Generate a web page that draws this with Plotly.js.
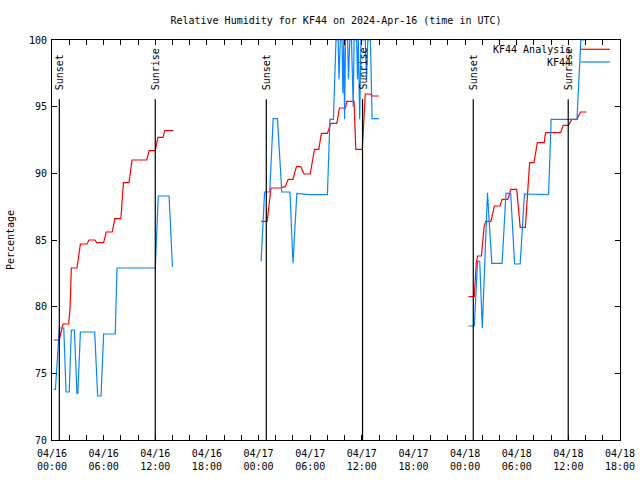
<!DOCTYPE html>
<html><head><meta charset="utf-8">
<script src="https://cdn.plot.ly/plotly-3.0.1.min.js"></script>
<style>html,body{margin:0;padding:0;background:#fff}</style>
</head><body><div id="chart" style="width:640px;height:480px"></div>
<script>
// KF44 Analysis (red)
const analysisTimes = [
 '2024-04-16 00:12','2024-04-16 00:51','2024-04-16 01:03','2024-04-16 01:17','2024-04-16 01:56','2024-04-16 02:06','2024-04-16 02:15','2024-04-16 02:54','2024-04-16 03:18','2024-04-16 04:04','2024-04-16 04:18','2024-04-16 04:58','2024-04-16 05:12','2024-04-16 06:00','2024-04-16 06:18','2024-04-16 07:00','2024-04-16 07:18','2024-04-16 08:00','2024-04-16 08:18','2024-04-16 08:57','2024-04-16 09:18','2024-04-16 11:00','2024-04-16 11:18','2024-04-16 12:00','2024-04-16 12:18','2024-04-16 12:54','2024-04-16 13:06','2024-04-16 14:06',
 '2024-04-16 18:00',
 '2024-04-17 00:18','2024-04-17 01:00','2024-04-17 01:27','2024-04-17 02:30','2024-04-17 03:06','2024-04-17 03:27','2024-04-17 04:00','2024-04-17 04:24','2024-04-17 04:54','2024-04-17 05:18','2024-04-17 06:00','2024-04-17 06:30','2024-04-17 07:00','2024-04-17 07:18','2024-04-17 08:00','2024-04-17 08:24','2024-04-17 09:06','2024-04-17 09:24','2024-04-17 10:06','2024-04-17 10:15','2024-04-17 11:06','2024-04-17 11:18','2024-04-17 12:03','2024-04-17 12:24','2024-04-17 13:00','2024-04-17 13:12','2024-04-17 14:00',
 '2024-04-17 18:00',
 '2024-04-18 00:24','2024-04-18 01:04','2024-04-18 01:18','2024-04-18 01:27','2024-04-18 01:54','2024-04-18 02:12','2024-04-18 02:24','2024-04-18 03:00','2024-04-18 03:24','2024-04-18 04:03','2024-04-18 04:18','2024-04-18 04:57','2024-04-18 05:06','2024-04-18 05:18','2024-04-18 06:00','2024-04-18 06:24','2024-04-18 07:00','2024-04-18 07:21','2024-04-18 07:30','2024-04-18 08:00','2024-04-18 08:24','2024-04-18 09:12','2024-04-18 09:21','2024-04-18 11:06','2024-04-18 11:24','2024-04-18 12:00','2024-04-18 12:24','2024-04-18 13:00','2024-04-18 13:24','2024-04-18 14:06'
];
const analysisValues = [
 77.5,77.5,78.1,78.7,78.7,79.9,82.9,82.9,84.7,84.7,85.0,85.0,84.8,84.8,85.6,85.6,86.6,86.6,89.3,89.3,91.0,91.0,91.7,91.7,92.7,92.7,93.2,93.2,
 null,
 86.4,86.4,88.9,88.9,89.0,89.55,89.55,90.5,90.5,89.95,89.95,91.8,91.8,93.0,93.0,93.75,93.75,94.9,94.9,95.4,95.4,91.8,91.8,95.95,95.95,95.8,95.8,
 null,
 80.75,80.75,83.25,83.8,83.8,85.95,86.4,86.4,87.55,87.55,88.05,88.05,88.3,88.8,88.8,85.95,85.95,89.9,90.8,90.8,92.3,92.3,93.05,93.05,93.6,93.6,94.05,94.05,94.6,94.6
];
// KF44 observations (blue)
const obsTimes = [
 '2024-04-16 00:12','2024-04-16 00:24','2024-04-16 00:51','2024-04-16 01:22','2024-04-16 01:38','2024-04-16 02:00','2024-04-16 02:15','2024-04-16 02:36','2024-04-16 02:54','2024-04-16 03:00','2024-04-16 03:18','2024-04-16 04:58','2024-04-16 05:18','2024-04-16 05:42','2024-04-16 06:00','2024-04-16 07:21','2024-04-16 07:33','2024-04-16 12:00','2024-04-16 12:21','2024-04-16 13:36','2024-04-16 14:00',
 '2024-04-16 18:00',
 '2024-04-17 00:18','2024-04-17 00:42','2024-04-17 01:18','2024-04-17 01:42','2024-04-17 02:12','2024-04-17 02:42','2024-04-17 03:39','2024-04-17 04:00','2024-04-17 04:27','2024-04-17 05:48','2024-04-17 08:00','2024-04-17 08:18','2024-04-17 08:42','2024-04-17 09:00','2024-04-17 09:15','2024-04-17 09:21','2024-04-17 09:30','2024-04-17 09:42','2024-04-17 09:48','2024-04-17 09:54','2024-04-17 10:00','2024-04-17 10:06','2024-04-17 10:21','2024-04-17 10:27','2024-04-17 10:36','2024-04-17 10:48','2024-04-17 11:00','2024-04-17 11:06','2024-04-17 11:24','2024-04-17 11:30','2024-04-17 11:36','2024-04-17 11:45','2024-04-17 11:54','2024-04-17 12:24','2024-04-17 12:33','2024-04-17 12:42','2024-04-17 13:00','2024-04-17 13:12','2024-04-17 14:00',
 '2024-04-17 18:00',
 '2024-04-18 00:24','2024-04-18 01:04','2024-04-18 01:27','2024-04-18 01:42','2024-04-18 02:00','2024-04-18 02:36','2024-04-18 03:06','2024-04-18 04:18','2024-04-18 04:45','2024-04-18 05:18','2024-04-18 05:45','2024-04-18 06:24','2024-04-18 06:54','2024-04-18 09:42','2024-04-18 10:00','2024-04-18 13:00','2024-04-18 13:27','2024-04-18 14:06'
];
const obsValues = [
 73.8,73.8,78.4,78.4,73.6,73.6,78.25,78.25,73.5,73.5,78.1,78.1,73.3,73.3,77.95,77.95,82.9,82.9,88.3,88.3,83.0,
 null,
 83.4,88.6,88.6,94.1,94.1,88.6,88.6,83.25,88.5,88.4,88.4,94.05,94.05,100,100,97.05,100,100,96.0,100,94.05,100,100,97.05,100,100,95.0,100,100,97.05,100,94.05,100,100,97.05,100,100,94.1,94.1,
 null,
 78.55,78.55,83.4,83.4,78.4,88.55,83.25,83.25,88.5,88.5,83.2,83.2,88.45,88.4,94.05,94.05,100,100
];
const sunTimes = ['2024-04-16 00:51','2024-04-16 12:00','2024-04-17 00:54','2024-04-17 12:05','2024-04-18 00:57','2024-04-18 11:59'];
const sunLabels = ['Sunset','Sunrise','Sunset','Sunrise','Sunset','Sunrise'];
const seriesNames = ['KF44 Analysis','KF44'];
const seriesColors = ['#ff0000','#0a84ff'];
const titleText = 'Relative Humidity for KF44 on 2024-Apr-16 (time in UTC)';
const yTitle = 'Percentage';

const FONT = 'DejaVu Sans Mono, monospace';
const traces = [
  {x: analysisTimes, y: analysisValues, type: 'scatter', mode: 'lines', name: seriesNames[0],
   line: {color: seriesColors[0], width: 1.2}, connectgaps: false},
  {x: obsTimes, y: obsValues, type: 'scatter', mode: 'lines', name: seriesNames[1],
   line: {color: seriesColors[1], width: 1.2}, connectgaps: false}
];
const shapes = sunTimes.map(t => ({type: 'line', xref: 'x', yref: 'y', x0: t, x1: t, y0: 70, y1: 95.55,
  line: {color: '#000', width: 1.2}}));
const annotations = sunTimes.map((t, i) => ({xref: 'x', yref: 'y', x: t, y: 96.1, text: sunLabels[i],
  textangle: -90, showarrow: false, xanchor: 'center', yanchor: 'bottom', font: {family: FONT, size: 10, color: '#000'}}));
// custom gnuplot-style key
const keyY = [0.9768, 0.945];
seriesNames.forEach((n, i) => {
  annotations.push({xref: 'paper', yref: 'paper', x: 0.9178, y: keyY[i], text: n, showarrow: false,
    xanchor: 'right', yanchor: 'middle', font: {family: FONT, size: 10, color: '#000'}});
  shapes.push({type: 'line', xref: 'paper', yref: 'paper', x0: 0.9308, x1: 0.9824, y0: keyY[i], y1: keyY[i],
    line: {color: seriesColors[i], width: 1.2}});
});

const layout = {
  width: 640, height: 480,
  margin: {l: 52, r: 20, t: 40, b: 40, pad: 0},
  paper_bgcolor: '#fff', plot_bgcolor: '#fff',
  showlegend: false,
  font: {family: FONT, size: 10, color: '#000'},
  title: {text: titleText, x: 0.5, xref: 'paper', xanchor: 'center', y: 0.958, yref: 'container', yanchor: 'middle',
    font: {family: FONT, size: 10, color: '#000'}},
  xaxis: {type: 'date', range: ['2024-04-16 00:00', '2024-04-18 18:00'],
    tick0: '2024-04-16 00:00', dtick: 21600000, tickformat: '%m/%d<br>%H:%M',
    ticks: 'inside', ticklen: 5, tickcolor: '#000', showline: true, linecolor: '#000', linewidth: 1, mirror: 'ticks',
    showgrid: false, zeroline: false, tickfont: {family: FONT, size: 10}, ticklabelstandoff: 4,
    minor: {dtick: 7200000, tick0: '2024-04-16 00:00', ticks: 'inside', ticklen: 5, tickcolor: '#000', showgrid: false}},
  yaxis: {range: [70, 100], tick0: 70, dtick: 5, ticks: 'inside', ticklen: 5, tickcolor: '#000',
    showline: true, linecolor: '#000', linewidth: 1, mirror: 'ticks', showgrid: false, zeroline: false,
    tickfont: {family: FONT, size: 10}, ticklabelstandoff: 2,
    title: {text: yTitle, font: {family: FONT, size: 10}, standoff: 12}},
  shapes: shapes,
  annotations: annotations
};
Plotly.newPlot('chart', traces, layout, {displayModeBar: false, staticPlot: true});
</script></body></html>
